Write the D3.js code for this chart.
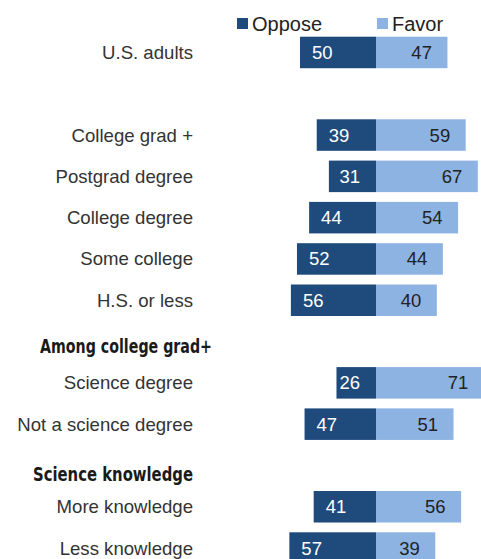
<!DOCTYPE html>
<html><head><meta charset="utf-8">
<script src="https://cdn.jsdelivr.net/npm/d3@7"></script>
<style>html,body{margin:0;padding:0;background:#fff;overflow:hidden}</style>
</head><body><svg id="c" width="481" height="559"></svg>
<script>
// Data
const rows = ["U.S. adults", "", "College grad +", "Postgrad degree", "College degree", "Some college", "H.S. or less",
  "Among college grad+", "Science degree", "Not a science degree", "Science knowledge", "More knowledge", "Less knowledge"];
const headers = ["Among college grad+", "Science knowledge"];
const categories = ["U.S. adults", "College grad +", "Postgrad degree", "College degree", "Some college", "H.S. or less",
  "Science degree", "Not a science degree", "More knowledge", "Less knowledge"];
const oppose = [50, 39, 31, 44, 52, 56, 26, 47, 41, 57];
const favor  = [47, 59, 67, 54, 44, 40, 71, 51, 56, 39];
const seriesNames = ["Oppose", "Favor"];

const rowKeys = rows.map((r, i) => r === "" ? "__blank" + i : r);
const svg = d3.select("#c");
const darkBlue = "#1f4a7c", lightBlue = "#8db3e2";
const font = "'Liberation Sans', Arial, sans-serif";

const step = 41.3, pad = 0.237;
const y0 = 36.7 - step * pad / 2;
const y = d3.scaleBand().domain(rowKeys).range([y0, y0 + rowKeys.length * step])
  .paddingInner(pad).paddingOuter(pad / 2);
const cx = 376;
const x = d3.scaleLinear().domain([-100, 100]).range([cx - 152, cx + 152]);

const data = categories.map((c, i) => ({cat: c, opp: oppose[i], fav: favor[i]}));

const g = svg.append("g");
// bars
g.selectAll("rect.opp").data(data).join("rect").attr("class", "opp")
  .attr("x", d => x(-d.opp)).attr("width", d => x(0) - x(-d.opp))
  .attr("y", d => y(d.cat)).attr("height", y.bandwidth()).attr("fill", darkBlue);
g.selectAll("rect.fav").data(data).join("rect").attr("class", "fav")
  .attr("x", x(0)).attr("width", d => x(d.fav) - x(0))
  .attr("y", d => y(d.cat)).attr("height", y.bandwidth()).attr("fill", lightBlue);

// category labels
g.selectAll("text.cat").data(data).join("text").attr("class", "cat")
  .attr("x", 193).attr("y", d => y(d.cat) + y.bandwidth() / 2).attr("dy", "0.35em")
  .attr("text-anchor", "end").attr("font-family", font).attr("font-size", 18.6)
  .attr("fill", "#333").text(d => d.cat);

// headers
const headerLayout = {"Among college grad+": {x: 40, dy: 5, w: 172}, "Science knowledge": {x: 33, dy: 9, w: 160}};
g.selectAll("text.hdr").data(headers).join("text").attr("class", "hdr")
  .attr("x", d => headerLayout[d].x)
  .attr("y", d => y(d) + y.bandwidth() / 2 + headerLayout[d].dy).attr("dy", "0.35em")
  .attr("font-family", "'DejaVu Sans Condensed', 'Liberation Sans', sans-serif")
  .attr("font-weight", "bold").attr("font-size", 19).attr("fill", "#1a1a1a")
  .attr("textLength", d => headerLayout[d].w).attr("lengthAdjust", "spacingAndGlyphs")
  .text(d => d);

// value labels
g.selectAll("text.vo").data(data).join("text").attr("class", "vo")
  .attr("y", d => y(d.cat) + y.bandwidth() / 2).attr("dy", "0.35em")
  .attr("font-family", font).attr("font-size", 18.5).attr("fill", "#fff")
  .text(d => d.opp)
  .each(function(d) {
    const w = this.getComputedTextLength();
    const left = Math.min(x(-d.opp) + 12, x(0) - 16 - w);
    d3.select(this).attr("x", left);
  });
g.selectAll("text.vf").data(data).join("text").attr("class", "vf")
  .attr("x", d => x(d.fav) - 15.5).attr("y", d => y(d.cat) + y.bandwidth() / 2).attr("dy", "0.35em")
  .attr("text-anchor", "end").attr("font-family", font).attr("font-size", 18.5).attr("fill", "#222")
  .text(d => d.fav);

// legend
const legendX = [237, 377];
const lg = svg.append("g").selectAll("g").data(seriesNames).join("g")
  .attr("transform", (d, i) => `translate(${legendX[i]},17)`);
lg.append("rect").attr("width", 11).attr("height", 11).attr("y", 1)
  .attr("fill", (d, i) => i === 0 ? darkBlue : lightBlue);
lg.append("text").attr("x", 15).attr("y", 6.5).attr("dy", "0.35em")
  .attr("font-family", font).attr("font-size", 20).attr("fill", "#222").text(d => d);
</script></body></html>
